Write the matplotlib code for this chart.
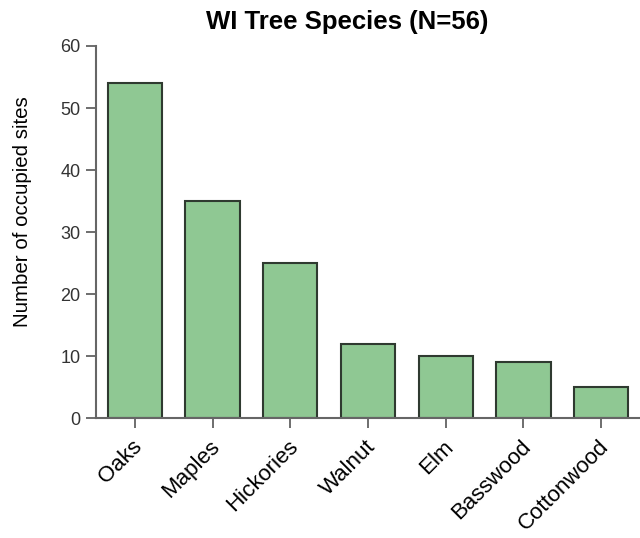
import matplotlib
matplotlib.use('Agg')
import matplotlib.pyplot as plt
import matplotlib.transforms as mtransforms

plt.rcParams['font.family'] = ['Liberation Sans', 'DejaVu Sans']

species = ['Oaks', 'Maples', 'Hickories', 'Walnut', 'Elm', 'Basswood', 'Cottonwood']
sites = [54, 35, 25, 12, 10, 9, 5]
yticks = [0, 10, 20, 30, 40, 50, 60]

fig = plt.figure(figsize=(6.4, 5.38), dpi=100)
ax = fig.add_axes([0.15, 0.223, 0.85, 0.6915])

ax.bar(range(len(species)), sites, width=0.7, color='#8fc893',
       edgecolor='#2f3a30', linewidth=1.5)

ax.set_xlim(-0.5, len(species) - 0.5)
ax.set_ylim(0, 60)
ax.set_yticks(yticks)
ax.set_xticks(range(len(species)))
ax.set_xticklabels(species, rotation=45, ha='right', rotation_mode='anchor',
                   fontsize=16)
ax.tick_params(axis='y', labelsize=13, colors='#555555', length=7, width=1.2, pad=4)
ax.tick_params(axis='x', length=7, width=1.2, colors='#555555', pad=6)
# nudge rotated labels a little to the left
shift = mtransforms.ScaledTranslation(-3 / 100, 0, fig.dpi_scale_trans)
for lab in ax.get_yticklabels():
    lab.set_color('#333333')
for lab in ax.get_xticklabels():
    lab.set_color('black')
    lab.set_transform(lab.get_transform() + shift)

ax.spines['top'].set_visible(False)
ax.spines['right'].set_visible(False)
for s in ['left', 'bottom']:
    ax.spines[s].set_color('#666666')
    ax.spines[s].set_linewidth(1.5)

ax.set_ylabel('Number of occupied sites', fontsize=14.8)
ax.yaxis.set_label_coords(-0.118, 0.556)
fig.text(0.542, 0.96, 'WI Tree Species (N=56)', ha='center', va='center',
         fontsize=18.5, fontweight='bold')

fig.savefig('out.png', dpi=100)
